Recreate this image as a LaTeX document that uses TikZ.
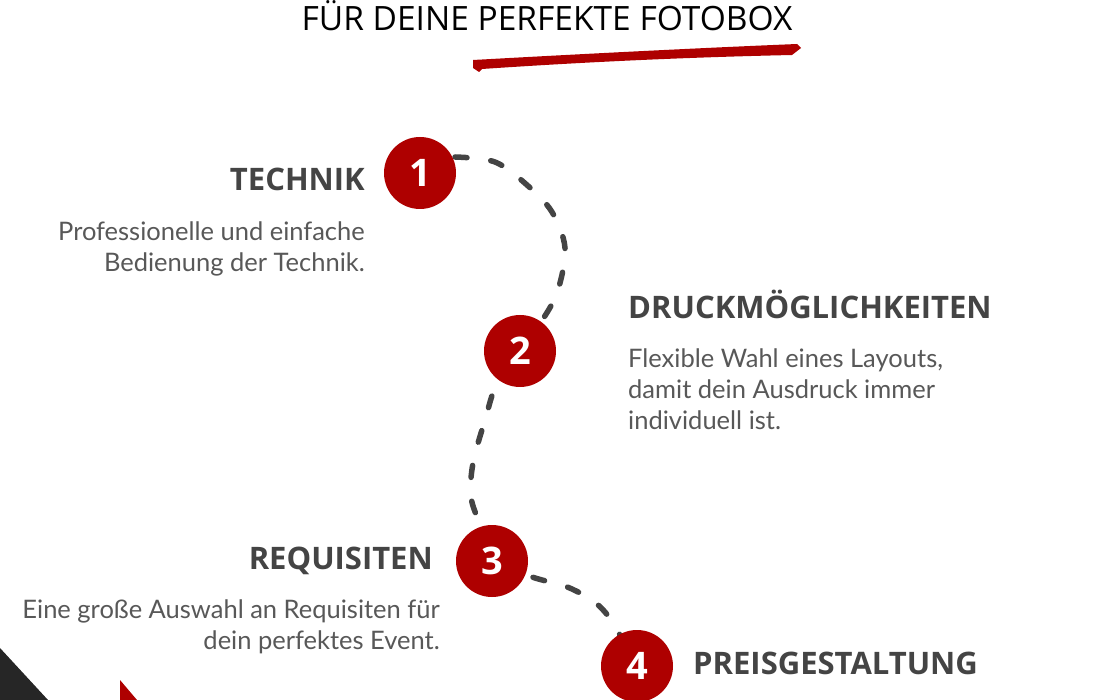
\documentclass[tikz,border=0pt]{standalone}
\usepackage{fontspec}
\setmainfont{Open Sans}
\newfontfamily\headfont{Open Sans}
\newfontfamily\bodyfont{Lato}
\usetikzlibrary{backgrounds}
\definecolor{brandred}{HTML}{AE0000}
\definecolor{headgray}{HTML}{444444}
\definecolor{bodygray}{HTML}{585858}
\definecolor{dashgray}{HTML}{444444}
\tikzset{
  numcircle/.style={circle, fill=brandred, minimum size=72pt, inner sep=0pt, text=white, font=\headfont\bfseries\fontsize{38}{38}\selectfont},
  heading/.style={inner sep=0pt, text=headgray, font=\headfont\bfseries\fontsize{31}{31}\selectfont},
  bodytext/.style={inner sep=0pt, text=bodygray, font=\bodyfont\fontsize{25.5}{31}\selectfont},
  pathline/.style={draw=dashgray, line width=5.5pt, line cap=round, dash pattern=on 12pt off 24pt}
}
\begin{document}
\begin{tikzpicture}[x=1pt,y=-1pt]
\useasboundingbox[fill=white] (0,0) rectangle (1100,700);
% title
\node[inner sep=0pt, anchor=base, font=\headfont\fontsize{33.5}{33.5}\selectfont, text=black] (title) at (547,31) {FÜR DEINE PERFEKTE FOTOBOX};
\fill[brandred] (473,60) .. controls (600,53) and (700,48) .. (797,44) -- (801,48) -- (792,55) .. controls (700,57) and (600,61) .. (482,69) -- (479,72) -- (473,68) -- cycle;
% circle positions
\coordinate (p1) at (420,173);
\coordinate (p2) at (520,351);
\coordinate (p3) at (492,561);
\coordinate (p4) at (637,666);
% dashed path
\draw[pathline] plot[smooth, tension=0.55] coordinates {(455,157) (495,162) (527,185) (552,212) (565,248) (558,290) (543,319) (p2) (497,383) (485,420) (473,463) (471,497) (480,525) (p3) (532,577) (572,589) (605,612) (p4)};
% circles
\node[numcircle] (c1) at (p1) {1};
\node[numcircle] (c2) at (p2) {2};
\node[numcircle] (c3) at (p3) {3};
\node[numcircle] (c4) at (p4) {4};
% headings
\node[heading, anchor=base east] (h1) at (365,191) {TECHNIK};
\node[heading, anchor=base west] (h2) at (628,319) {DRUCKMÖGLICHKEITEN};
\node[heading, anchor=base east] (h3) at (433,569) {REQUISITEN};
\node[heading, anchor=base west] (h4) at (693,674) {PREISGESTALTUNG};
% body (base anchor = baseline of last line)
\node[bodytext, anchor=base east, align=right] (b1) at (365,272) {Professionelle und einfache\\Bedienung der Technik.};
\node[bodytext, anchor=base west, align=left] (b2) at (628,429) {Flexible Wahl eines Layouts,\\damit dein Ausdruck immer\\individuell ist.};
\node[bodytext, anchor=base east, align=right] (b3) at (440,649) {Eine große Auswahl an Requisiten für\\dein perfektes Event.};
% corner shapes
\fill[black!85] (0,648) -- (48,700) -- (0,700) -- cycle;
\fill[brandred] (120,680) -- (137,700) -- (120,700) -- cycle;
\end{tikzpicture}
\end{document}
